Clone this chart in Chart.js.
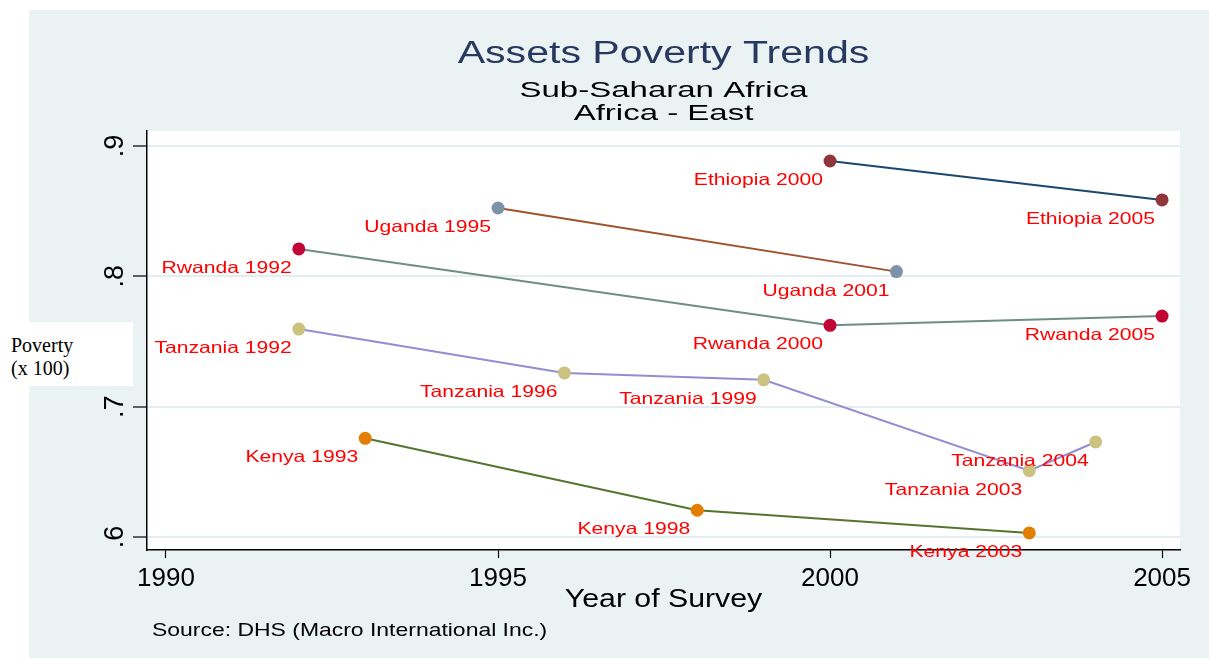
<!DOCTYPE html>
<html lang="en">
<head>
    <meta charset="UTF-8">
    <title>Assets Poverty Trends</title>
    <script src="https://cdn.jsdelivr.net/npm/chart.js"></script>
    <style>
        body {
            margin: 0;
            background: #fff;
            font-family: "Liberation Sans", Arial, sans-serif;
        }
        #wrap {
            position: absolute;
            left: 29px;
            top: 10px;
            width: 1180px;
            height: 648px;
            background: #eaf2f3;
        }
        #ylab {
            position: absolute;
            left: 0;
            top: 322px;
            width: 133px;
            height: 64px;
            box-sizing: border-box;
            padding: 12px 0 0 11px;
            background: #fff;
            font-family: "Liberation Serif", "Times New Roman", serif;
            font-size: 20px;
            line-height: 23px;
            color: #000;
        }
    </style>
</head>
<body>
    <div id="wrap"><canvas id="myChart" width="1180" height="648"></canvas></div>
    <div id="ylab">Poverty<br>(x 100)</div>

    <script>
        // survey data
        const countries = ['Ethiopia', 'Uganda', 'Rwanda', 'Tanzania', 'Kenya'];
        const ethiopiaYears = [2000, 2005];
        const ethiopiaPoverty = [0.8885, 0.8586];
        const ugandaYears = [1995, 2001];
        const ugandaPoverty = [0.8524, 0.8036];
        const rwandaYears = [1992, 2000, 2005];
        const rwandaPoverty = [0.8210, 0.7624, 0.7695];
        const tanzaniaYears = [1992, 1996, 1999, 2003, 2004];
        const tanzaniaPoverty = [0.7595, 0.7259, 0.7206, 0.6509, 0.6729];
        const kenyaYears = [1993, 1998, 2003];
        const kenyaPoverty = [0.6757, 0.6205, 0.6031];
        const xTicks = [1990, 1995, 2000, 2005];
        const yTicks = [0.6, 0.7, 0.8, 0.9];

        const lineColors = ['#1a476f', '#a0522d', '#6e8e84', '#938dd2', '#55752f'];
        const markerColors = ['#90353b', '#7b92a8', '#c10534', '#cac27e', '#e37e00'];
        const FONT = '"Liberation Sans", Arial, sans-serif';

        function series(i, years, values) {
            return {
                label: countries[i],
                data: years.map((yr, j) => ({ x: yr, y: values[j] })),
                borderColor: lineColors[i],
                backgroundColor: markerColors[i],
                pointBackgroundColor: markerColors[i],
                pointBorderColor: markerColors[i],
                pointBorderWidth: 0,
                pointRadius: 6.5,
                borderWidth: 2,
                tension: 0
            };
        }

        // the original graph is stretched sideways, so text gets a horizontal scale
        function stretchText(ctx, text, x, y, font, sx, align, color) {
            ctx.save();
            ctx.translate(x, y);
            ctx.scale(sx, 1);
            ctx.font = font;
            ctx.fillStyle = color;
            ctx.textAlign = align;
            ctx.textBaseline = 'alphabetic';
            ctx.fillText(text, 0, 0);
            ctx.restore();
        }

        const stataLook = {
            id: 'stataLook',
            beforeDraw(chart) {
                const { ctx, chartArea: a } = chart;
                ctx.save();
                ctx.fillStyle = '#fff';
                ctx.fillRect(a.left, a.top, a.right - a.left, a.bottom - a.top);
                ctx.restore();
            },
            afterDatasetsDraw(chart) {
                const ctx = chart.ctx;
                chart.data.datasets.forEach((ds, i) => {
                    chart.getDatasetMeta(i).data.forEach((pt, j) => {
                        stretchText(ctx, ds.label + ' ' + ds.data[j].x, pt.x - 7, pt.y + 24,
                            '16.5px ' + FONT, 1.28, 'right', '#ff0000');
                    });
                });
            },
            afterDraw(chart) {
                const { ctx, chartArea: a } = chart;
                const cx = (a.left + a.right) / 2;
                stretchText(ctx, 'Assets Poverty Trends', cx, 53, '31px ' + FONT, 1.325, 'center', '#27395f');
                stretchText(ctx, 'Sub-Saharan Africa', cx, 87, '22px ' + FONT, 1.5, 'center', '#000');
                stretchText(ctx, 'Africa - East', cx, 110, '22px ' + FONT, 1.5, 'center', '#000');
                stretchText(ctx, 'Year of Survey', cx, 597, '25px ' + FONT, 1.21, 'center', '#000');
                stretchText(ctx, 'Source: DHS (Macro International Inc.)', 123, 626, '18.5px ' + FONT, 1.24, 'left', '#000');
            }
        };

        const ctx = document.getElementById('myChart').getContext('2d');
        new Chart(ctx, {
            type: 'line',
            data: {
                datasets: [
                    series(0, ethiopiaYears, ethiopiaPoverty),
                    series(1, ugandaYears, ugandaPoverty),
                    series(2, rwandaYears, rwandaPoverty),
                    series(3, tanzaniaYears, tanzaniaPoverty),
                    series(4, kenyaYears, kenyaPoverty)
                ]
            },
            options: {
                responsive: false,
                animation: false,
                layout: { padding: { top: 121, right: 29, left: 0, bottom: 0 } },
                plugins: {
                    legend: { display: false },
                    tooltip: { enabled: false }
                },
                scales: {
                    x: {
                        type: 'linear',
                        min: 1989.714,
                        max: 2005.27,
                        afterBuildTicks: s => { s.ticks = xTicks.map(v => ({ value: v })); },
                        afterFit: s => { s.height = 108; },
                        grid: { drawOnChartArea: false, tickLength: 8, tickColor: '#000', tickWidth: 1.2 },
                        border: { color: '#000', width: 1.5 },
                        ticks: {
                            color: '#000',
                            font: { size: 26, family: FONT },
                            padding: 5,
                            maxRotation: 0,
                            callback: v => String(v)
                        }
                    },
                    y: {
                        min: 0.59,
                        max: 0.9115,
                        afterBuildTicks: s => { s.ticks = yTicks.map(v => ({ value: v })); },
                        afterFit: s => { s.width = 118; },
                        grid: { color: '#e4edf0', lineWidth: 2, tickLength: 14, tickColor: '#000', tickWidth: 1.2 },
                        border: { color: '#000', width: 1.5 },
                        ticks: {
                            color: '#000',
                            font: { size: 27, family: FONT },
                            padding: 6,
                            minRotation: 90,
                            maxRotation: 90,
                            crossAlign: 'center',
                            callback: v => v.toFixed(1).replace(/^0/, '')
                        }
                    }
                }
            },
            plugins: [stataLook]
        });
    </script>
</body>
</html>
